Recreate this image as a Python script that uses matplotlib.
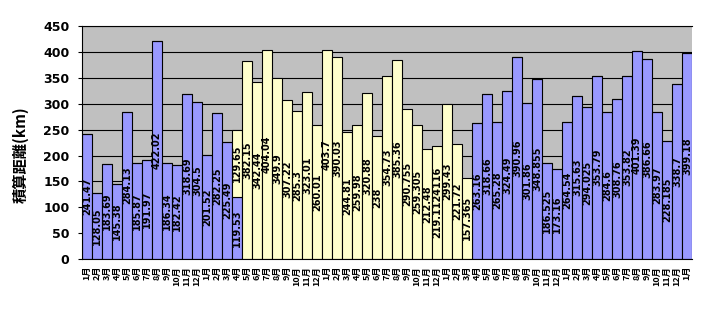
import matplotlib
matplotlib.use("Agg")
import matplotlib.pyplot as plt
import numpy as np

# ----- Données ----- #
months = [f"{(i % 12) + 1}月" for i in range(61)]

# série 1 (bleu) : 16 premiers mois puis 22 derniers
blue_head = [241.47, 128.05, 183.69, 145.38, 284.13, 185.87, 191.97, 422.02,
             186.34, 182.42, 318.69, 304.5, 201.52, 282.25, 225.49, 119.53]
blue_tail = [263.16, 318.66, 265.28, 324.49, 390.96, 301.86, 348.855, 186.525,
             173.16, 264.54, 315.63, 294.025, 353.79, 284.6, 308.76, 353.82,
             401.39, 386.66, 283.97, 228.185, 338.7, 399.18]
# série 2 (jaune) : empilée à partir du 16e mois
yellow_vals = [129.65, 382.15, 342.44, 404.04, 349.9, 307.22, 285.3, 323.01,
               260.01, 403.7, 390.03, 244.81, 259.98, 320.88, 238, 354.73,
               385.36, 290.755, 259.305, 212.48, 219.1124116, 299.43, 221.72,
               157.365]

n = len(months)
blue = np.zeros(n)
blue[:len(blue_head)] = blue_head
blue[n - len(blue_tail):] = blue_tail
yellow = np.zeros(n)
yellow[len(blue_head) - 1:len(blue_head) - 1 + len(yellow_vals)] = yellow_vals

x = np.arange(n)
cjk = ["Noto Sans CJK JP", "DejaVu Sans"]

fig = plt.figure(figsize=(7.06, 3.23), dpi=100)
ax = fig.add_axes([82 / 706, 1 - 259 / 323, 610 / 706, (259 - 26.3) / 323])
ax.set_facecolor("#C0C0C0")
ax.set_axisbelow(True)

ax.bar(x, blue, width=1.0, color="#9999FF", edgecolor="black", linewidth=0.8)
ax.bar(x, yellow, width=1.0, bottom=blue, color="#FFFFCC",
       edgecolor="black", linewidth=0.8)

# étiquettes de valeur au centre des segments
fmt = lambda v: "%.10g" % v
for i in range(n):
    if blue[i] > 0:
        ax.text(x[i], blue[i] / 2, fmt(blue[i]), rotation=90, ha="center",
                va="center", fontsize=7, fontweight="bold")
    if yellow[i] > 0:
        ax.text(x[i], blue[i] + yellow[i] / 2, fmt(yellow[i]), rotation=90,
                ha="center", va="center", fontsize=7, fontweight="bold")

ax.set_xlim(-0.5, n - 0.5)
ax.set_ylim(0, 450)
ax.set_yticks(np.arange(0, 451, 50))
ax.yaxis.grid(True, color="black", linewidth=0.8)
ax.tick_params(axis="y", labelsize=9, length=3, pad=6)
for lbl in ax.get_yticklabels():
    lbl.set_fontweight("bold")

ax.set_xticks(x)
ax.set_xticklabels(months, rotation=90, fontsize=6.5, fontweight="bold",
                   family=cjk)
ax.tick_params(axis="x", length=0, pad=5)

ax.set_ylabel("積算距離(km)", fontsize=11, fontweight="bold", family=cjk)
ax.yaxis.set_label_coords(-0.088, 0.45)

ax.spines["right"].set_visible(False)
for s in ("left", "bottom", "top"):
    ax.spines[s].set_color("black")
    ax.spines[s].set_linewidth(0.8)

fig.savefig("out.png", dpi=100)
